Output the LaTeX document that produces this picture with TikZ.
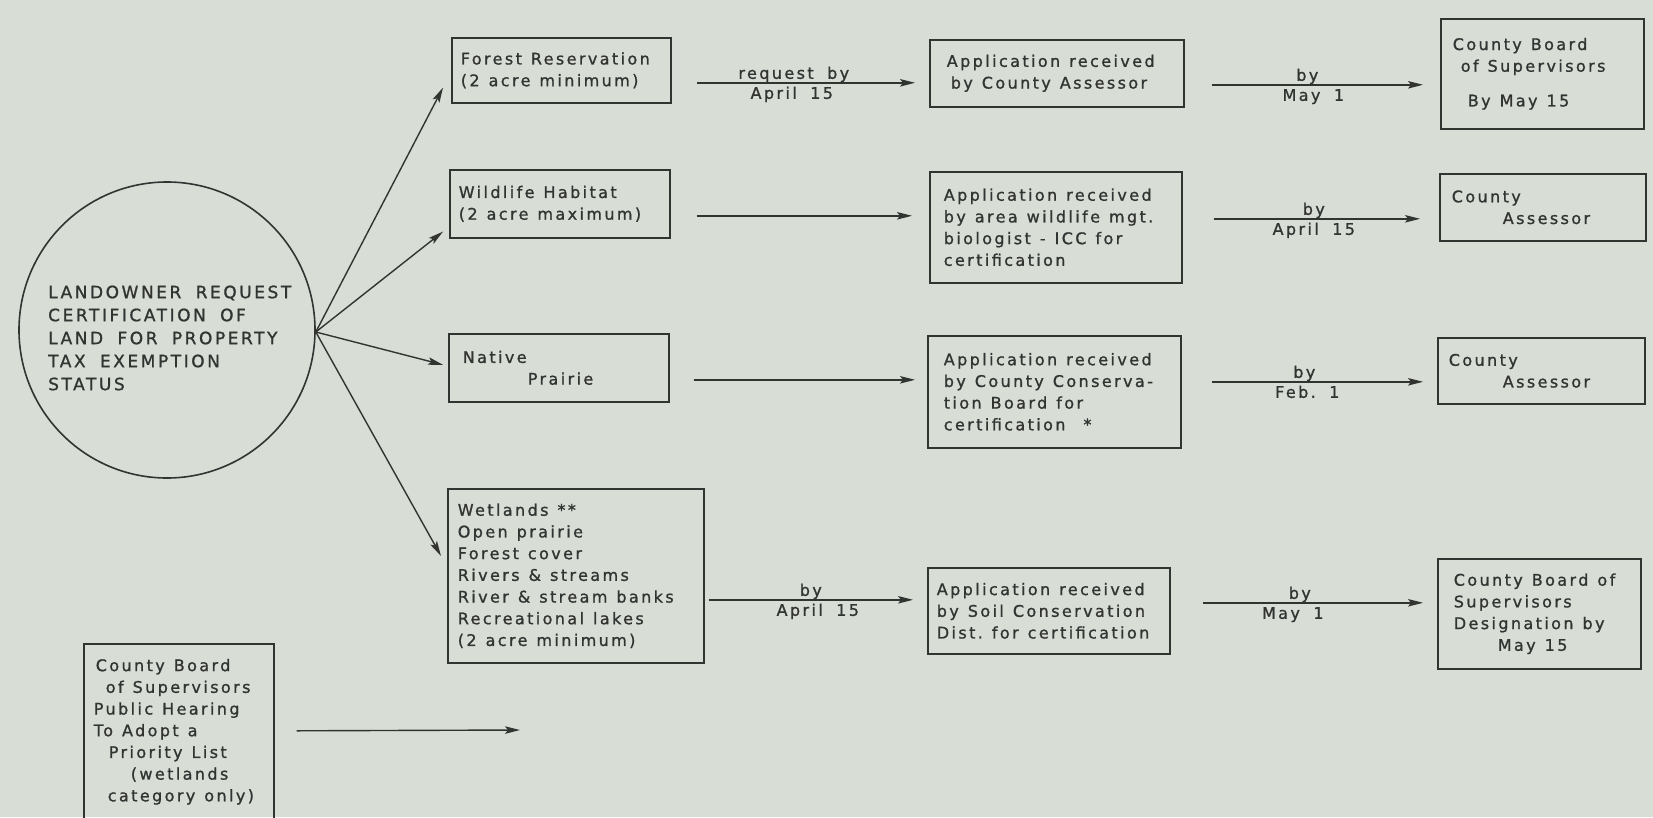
\documentclass[tikz,border=0pt]{standalone}
\usepackage{fontspec}
\newfontfamily\lr[LetterSpace=15,WordSpace=1.8,FakeBold=1.1]{DejaVu Sans}
\usetikzlibrary{arrows.meta,calc}
\definecolor{bg}{RGB}{216,221,214}
\definecolor{ink}{RGB}{50,52,50}
\newcommand\ws{\nobreak\hspace{9pt}}
\begin{document}
\begin{tikzpicture}[x=1pt,y=-1pt,
  txt/.style={text=ink,font=\lr\fontsize{16}{21.7}\selectfont},
  bx/.style={txt,draw=ink,line width=1.6pt,anchor=north west,align=left,inner ysep=0pt},
  arr/.style={draw=ink,line width=1.4pt,-{Stealth[length=15pt,width=7.5pt,inset=3pt]}},
  lab/.style={txt,anchor=base,inner sep=0pt},
  big/.style={text=ink,font=\lr\fontsize{17}{23}\selectfont}]
\fill[bg] (0,0) rectangle (1653,817);
\useasboundingbox (0,0) rectangle (1653,817);

% circle
\node[draw=ink,line width=1.6pt,circle,minimum size=296pt,inner sep=0pt] (lo) at (167,330) {};
\node[big,align=left,anchor=west,inner sep=0pt] (lotext) at (48,338)
  {LANDOWNER~REQUEST\\CERTIFICATION~OF\\LAND~FOR~PROPERTY\\TAX~EXEMPTION\\STATUS};
\coordinate (hub) at ($(lo.east)+(0,2)$);

% column 1
\node[bx,inner xsep=9pt,text width=201pt,minimum height=65pt] (forest) at (451,37)
  {Forest\ws Reservation\\(2\ws acre\ws minimum)};
\node[bx,inner xsep=9pt,text width=202pt,minimum height=68pt] (wild) at (449,169)
  {Wildlife\ws Habitat\\(2\ws acre\ws maximum)};
\node[bx,inner xsep=14pt,text width=192pt,minimum height=68pt] (native) at (448,333)
  {Native\\\hspace*{65pt}Prairie};
\node[bx,inner xsep=10pt,text width=236pt,minimum height=174pt] (wet) at (447,488)
  {Wetlands\ws **\\Open\ws prairie\\Forest\ws cover\\Rivers\ws\&\ws streams\\River\ws\&\ws stream\ws banks\\Recreational\ws lakes\\(2\ws acre\ws minimum)};

% column 2
\node[bx,inner xsep=17pt,text width=220pt,minimum height=67pt] (app1) at (929,39)
  {Application\ws received\\\hspace*{4pt}by\ws County\ws Assessor};
\node[bx,inner xsep=14pt,text width=224pt,minimum height=111pt] (app2) at (929,171)
  {Application\ws received\\by\ws area\ws wildlife\ws mgt.\\biologist\ws -\ws ICC\ws for\\certification};
\node[bx,inner xsep=16pt,text width=221pt,minimum height=112pt] (app3) at (927,335)
  {Application\ws received\\by\ws County\ws Conserva-\\tion\ws Board\ws for\\certification\ws\ws *};
\node[bx,inner xsep=9pt,text width=224pt,minimum height=86pt] (app4) at (927,567)
  {Application\ws received\\by\ws Soil\ws Conservation\\Dist.\ws for\ws certification};

% column 3
\node[bx,inner xsep=12pt,text width=179pt,minimum height=110pt] (cb1) at (1440,18)
  {County\ws Board\\\hspace*{8pt}of\ws Supervisors\\[13pt]\hspace*{15pt}By\ws May\ws 15};
\node[bx,inner xsep=12pt,text width=182pt,minimum height=67pt] (ca1) at (1439,173)
  {County\\\hspace*{51pt}Assessor};
\node[bx,inner xsep=11pt,text width=185pt,minimum height=66pt] (ca2) at (1437,337)
  {County\\\hspace*{54pt}Assessor};
\node[bx,inner xsep=16pt,text width=171pt,minimum height=110pt] (cb2) at (1437,558)
  {County\ws Board\ws of\\Supervisors\\Designation\ws by\\\hspace*{44pt}May\ws 15};

% bottom-left
\node[bx,inner xsep=10pt,text width=170pt,minimum height=176pt] (bl) at (83,643)
  {\hspace*{2pt}County\ws Board\\\hspace*{12pt}of\ws Supervisors\\Public\ws Hearing\\To\ws Adopt\ws a\\\hspace*{15pt}Priority\ws List\\\hspace*{37pt}(wetlands\\\hspace*{14pt}category\ws only)};
\coordinate (blend) at (520,730);

% fan from circle
\draw[arr] (hub) -- ($(forest.south west)+(-8,-16)$);
\draw[arr] (hub) -- ($(wild.south west)+(-6,-7)$);
\draw[arr] (hub) -- ($(native.west)+(-5,-3)$);
\draw[arr] (hub) -- ($(wet.north west)+(-6,68)$);

% horizontal flow
\draw[arr] ($(forest.east)+(25,12.5)$) --
  node[lab,yshift=4pt,xshift=-12pt]{request~by}
  node[lab,yshift=-16pt,xshift=-14pt]{April~15}
  ($(app1.west)+(-14,9.5)$);
\draw[arr] ($(wild.east)+(26,12)$) -- ($(app2.west)+(-17,-11.5)$);
\draw[arr] ($(native.east)+(24,12)$) -- ($(app3.west)+(-12,-12)$);
\draw[arr] ($(wet.east)+(4,24)$) --
  node[lab,yshift=4pt]{by}
  node[lab,yshift=-16pt,xshift=7pt]{April~15}
  ($(app4.west)+(-14,-11)$);

\draw[arr] ($(app1.east)+(27,11.5)$) --
  node[lab,yshift=4pt,xshift=-10pt]{by}
  node[lab,yshift=-16pt,xshift=-4pt]{May~1}
  ($(cb1.west)+(-17,11)$);
\draw[arr] ($(app2.east)+(31,-8.5)$) --
  node[lab,yshift=4pt,xshift=-3pt]{by}
  node[lab,yshift=-16pt,xshift=-3pt]{April~15}
  ($(ca1.west)+(-19,11.5)$);
\draw[arr] ($(app3.east)+(30,-10)$) --
  node[lab,yshift=4pt,xshift=-13pt]{by}
  node[lab,yshift=-16pt,xshift=-10pt]{Feb.~1}
  ($(ca2.west)+(-14,11)$);
\draw[arr] ($(app4.east)+(32,-8)$) --
  node[lab,yshift=4pt,xshift=-13pt]{by}
  node[lab,yshift=-16pt,xshift=-20pt]{May~1}
  ($(cb2.west)+(-14,-11)$);

\draw[arr] ($(bl.east)+(22,-1)$) -- (blend);
\end{tikzpicture}
\end{document}
